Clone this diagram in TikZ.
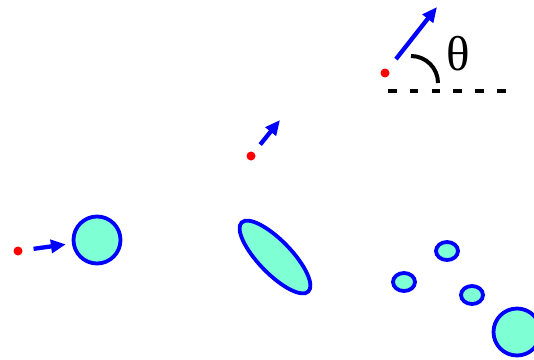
\documentclass[tikz,border=0pt]{standalone}
\usepackage{fontspec}
\setmainfont{Liberation Serif}
\usetikzlibrary{shapes.geometric,arrows.meta}
\definecolor{aqua}{RGB}{127,255,212}
\begin{document}
\begin{tikzpicture}[x=1pt,y=-1pt,
  dot/.style={circle,fill=red,inner sep=0pt,minimum size=9pt},
  blob/.style={ellipse,draw=blue,fill=aqua,line width=3.8pt,inner sep=0pt},
  arr/.style={draw=blue,line width=4.3pt,-{Triangle[length=15pt,width=13pt]}}]
\useasboundingbox (0,0) rectangle (534,359);
% left
\node[dot] (d1) at (18,251) {};
\node[blob,minimum width=47pt,minimum height=47pt] (c1) at (97,240) {};
\draw[arr,shorten <=11pt,shorten >=6pt] (d1) -- (c1);
% middle
\node[dot] (d2) at (251,156) {};
\coordinate (t2) at (280,120);
\draw[arr,shorten <=10pt] (d2) -- (t2);
\node[blob,minimum width=96pt,minimum height=33pt,rotate=-46] (e1) at (275,257) {};
% top right
\node[dot] (d3) at (385,73) {};
\coordinate (t3) at (437,7);
\draw[arr,shorten <=13pt] (d3) -- (t3);
\coordinate (ac) at (411,83);
\draw[line width=4pt] (ac) ++(0,-27) arc[start angle=-90,end angle=0,radius=27];
\node[inner sep=0pt,font=\fontsize{49}{49}\selectfont] (th) at (458,54) {θ};
\coordinate (l1) at (388,91);
\coordinate (l2) at (506,91);
\draw[line width=4pt,dash pattern=on 8.5pt off 13.3pt] (l1) -- (l2);
% small blobs
\node[blob,minimum width=22pt,minimum height=18pt] (s1) at (447,251) {};
\node[blob,minimum width=22pt,minimum height=18pt] (s2) at (404,282) {};
\node[blob,minimum width=22pt,minimum height=18pt] (s3) at (472,295) {};
\node[blob,minimum width=47pt,minimum height=47pt] (c2) at (517,332) {};
\end{tikzpicture}
\end{document}
